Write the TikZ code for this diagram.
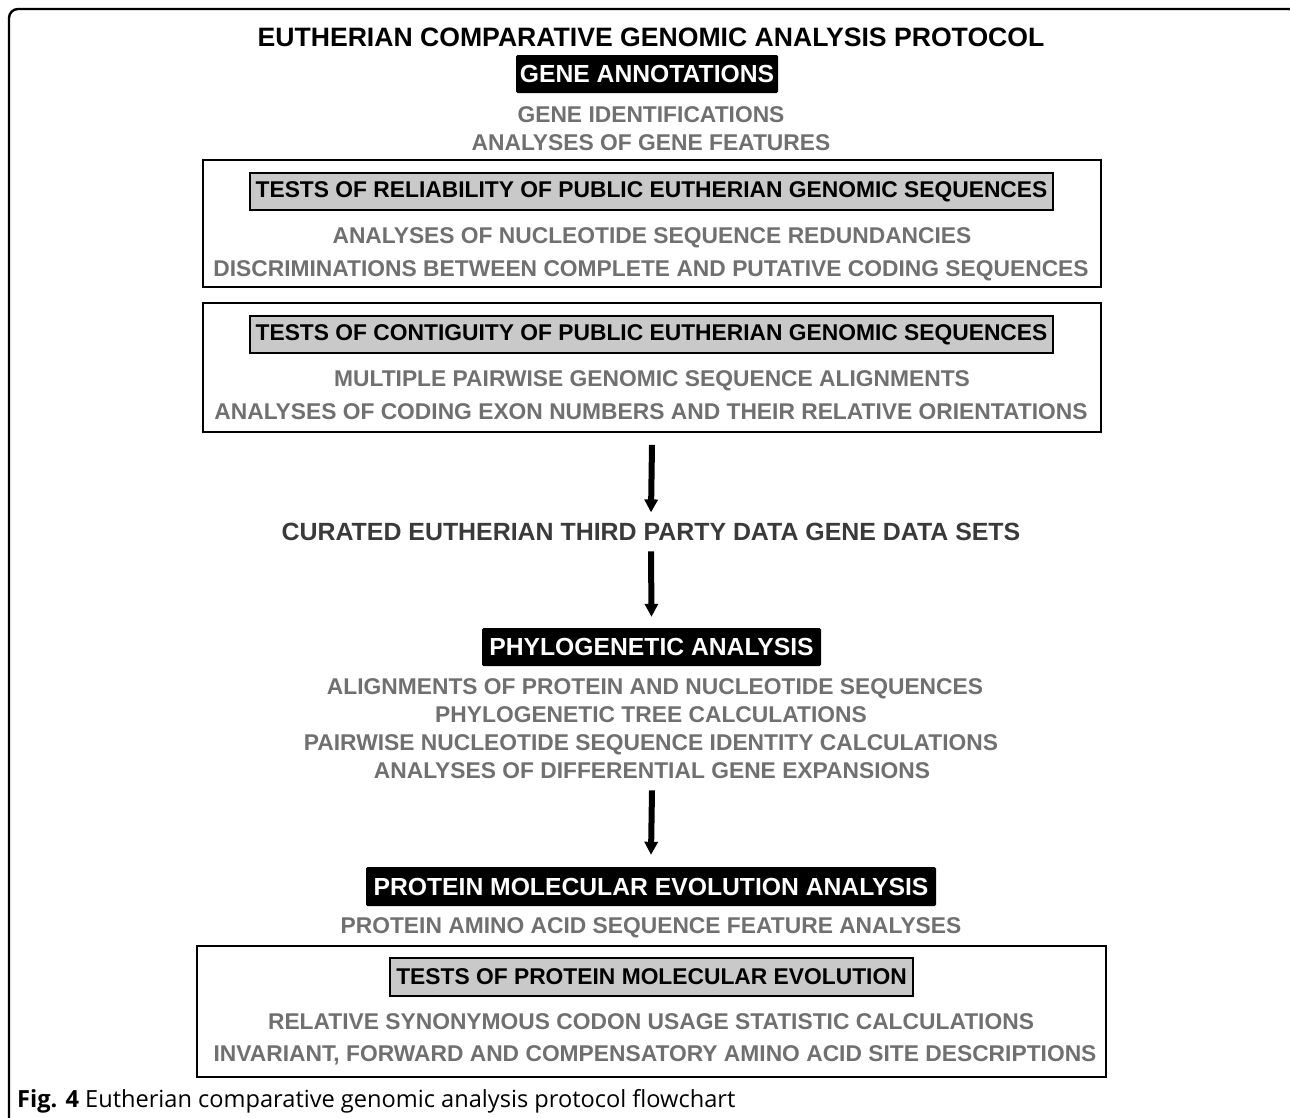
\documentclass[tikz,border=0pt]{standalone}
\usepackage{fontspec}
\setmainfont{Liberation Sans}
\newfontfamily\capfont{Open Sans}
\usetikzlibrary{arrows.meta}
\definecolor{txtgray}{HTML}{707070}
\definecolor{curgray}{HTML}{3A3A3A}
\definecolor{boxgray}{HTML}{C9C9C9}
\begin{document}
\begin{tikzpicture}[x=1pt,y=-1pt,
  titletext/.style={font=\fontsize{26.6}{30}\selectfont\bfseries, inner sep=0pt, anchor=base},
  blackbox/.style={fill=black, text=white, font=\fontsize{24.7}{28}\selectfont\bfseries, inner sep=0pt, rounded corners=1.5pt},
  graybox/.style={fill=boxgray, draw=black, line width=1.8pt, font=\fontsize{22.8}{27}\selectfont\bfseries, inner sep=0pt},
  framebox/.style={draw=black, line width=1.8pt, inner sep=0pt},
  grayline/.style={text=txtgray, font=\fontsize{22.8}{27}\selectfont\bfseries, inner sep=0pt, anchor=base},
  curline/.style={text=curgray, font=\fontsize{24.9}{29}\selectfont\bfseries, inner sep=0pt, anchor=base},
  bigarrow/.style={line width=6pt, -{Triangle[width=13pt,length=13pt]}},
  captext/.style={font=\capfont\fontsize{23.6}{27}\selectfont, inner sep=0pt, anchor=base west}
]
\useasboundingbox (0,0) rectangle (1290,1117);
% outer frame
\draw[line width=2.4pt, rounded corners=9pt] (9,1125) -- (9,9) -- (1298,9) -- (1298,1125);

\node[titletext] (title) at (651,46) {EUTHERIAN COMPARATIVE GENOMIC ANALYSIS PROTOCOL};

\node[blackbox, minimum width=262pt, minimum height=38pt] (ga) at (647,74) {GENE ANNOTATIONS};
\node[grayline] (ga1) at (651,122) {GENE IDENTIFICATIONS};
\node[grayline] (ga2) at (651,150) {ANALYSES OF GENE FEATURES};

% box 1
\node[framebox, minimum width=898pt, minimum height=127pt] (b1) at (652,223.5) {};
\node[graybox, minimum width=803pt, minimum height=37pt] (g1) at (651.5,191.5) {TESTS OF RELIABILITY OF PUBLIC EUTHERIAN GENOMIC SEQUENCES};
\node[grayline] (b1a) at (652,243) {ANALYSES OF NUCLEOTIDE SEQUENCE REDUNDANCIES};
\node[grayline] (b1b) at (651,276) {DISCRIMINATIONS BETWEEN COMPLETE AND PUTATIVE CODING SEQUENCES};

% box 2
\node[framebox, minimum width=898pt, minimum height=129pt] (b2) at (652,367.5) {};
\node[graybox, minimum width=803pt, minimum height=37pt] (g2) at (651.5,334.5) {TESTS OF CONTIGUITY OF PUBLIC EUTHERIAN GENOMIC SEQUENCES};
\node[grayline] (b2a) at (652,386) {MULTIPLE PAIRWISE GENOMIC SEQUENCE ALIGNMENTS};
\node[grayline] (b2b) at (651,419) {ANALYSES OF CODING EXON NUMBERS AND THEIR RELATIVE ORIENTATIONS};

% curated
\node[curline] (cur) at (651,540) {CURATED EUTHERIAN THIRD PARTY DATA GENE DATA SETS};

% phylogenetic
\node[blackbox, minimum width=339pt, minimum height=38pt] (ph) at (651.5,647) {PHYLOGENETIC ANALYSIS};
\node[grayline] (ph1) at (655,694) {ALIGNMENTS OF PROTEIN AND NUCLEOTIDE SEQUENCES};
\node[grayline] (ph2) at (651,722) {PHYLOGENETIC TREE CALCULATIONS};
\node[grayline] (ph3) at (651,750) {PAIRWISE NUCLEOTIDE SEQUENCE IDENTITY CALCULATIONS};
\node[grayline] (ph4) at (652,778) {ANALYSES OF DIFFERENTIAL GENE EXPANSIONS};

% protein
\node[blackbox, minimum width=570pt, minimum height=39pt] (pr) at (651,886.5) {PROTEIN MOLECULAR EVOLUTION ANALYSIS};
\node[grayline] (pr1) at (651,933) {PROTEIN AMINO ACID SEQUENCE FEATURE ANALYSES};

% box 3
\node[framebox, minimum width=909pt, minimum height=131pt] (b3) at (651.5,1011.5) {};
\node[graybox, minimum width=523pt, minimum height=38pt] (g3) at (651.5,977) {TESTS OF PROTEIN MOLECULAR EVOLUTION};
\node[grayline] (b3a) at (651,1029) {RELATIVE SYNONYMOUS CODON USAGE STATISTIC CALCULATIONS};
\node[grayline] (b3b) at (655,1061) {INVARIANT, FORWARD AND COMPENSATORY AMINO ACID SITE DESCRIPTIONS};

% arrows
\draw[bigarrow] ([yshift=-12pt]b2.south) -- ([yshift=10pt]cur.north);
\draw[bigarrow] ([yshift=-11pt]cur.south) -- ([yshift=11pt]ph.north);
\draw[bigarrow] ([yshift=-12pt]ph4.south) -- ([yshift=12pt]pr.north);

% caption
\node[captext] (cap) at (17,1107) {\textbf{Fig. 4} Eutherian comparative genomic analysis protocol flowchart};
\end{tikzpicture}
\end{document}
